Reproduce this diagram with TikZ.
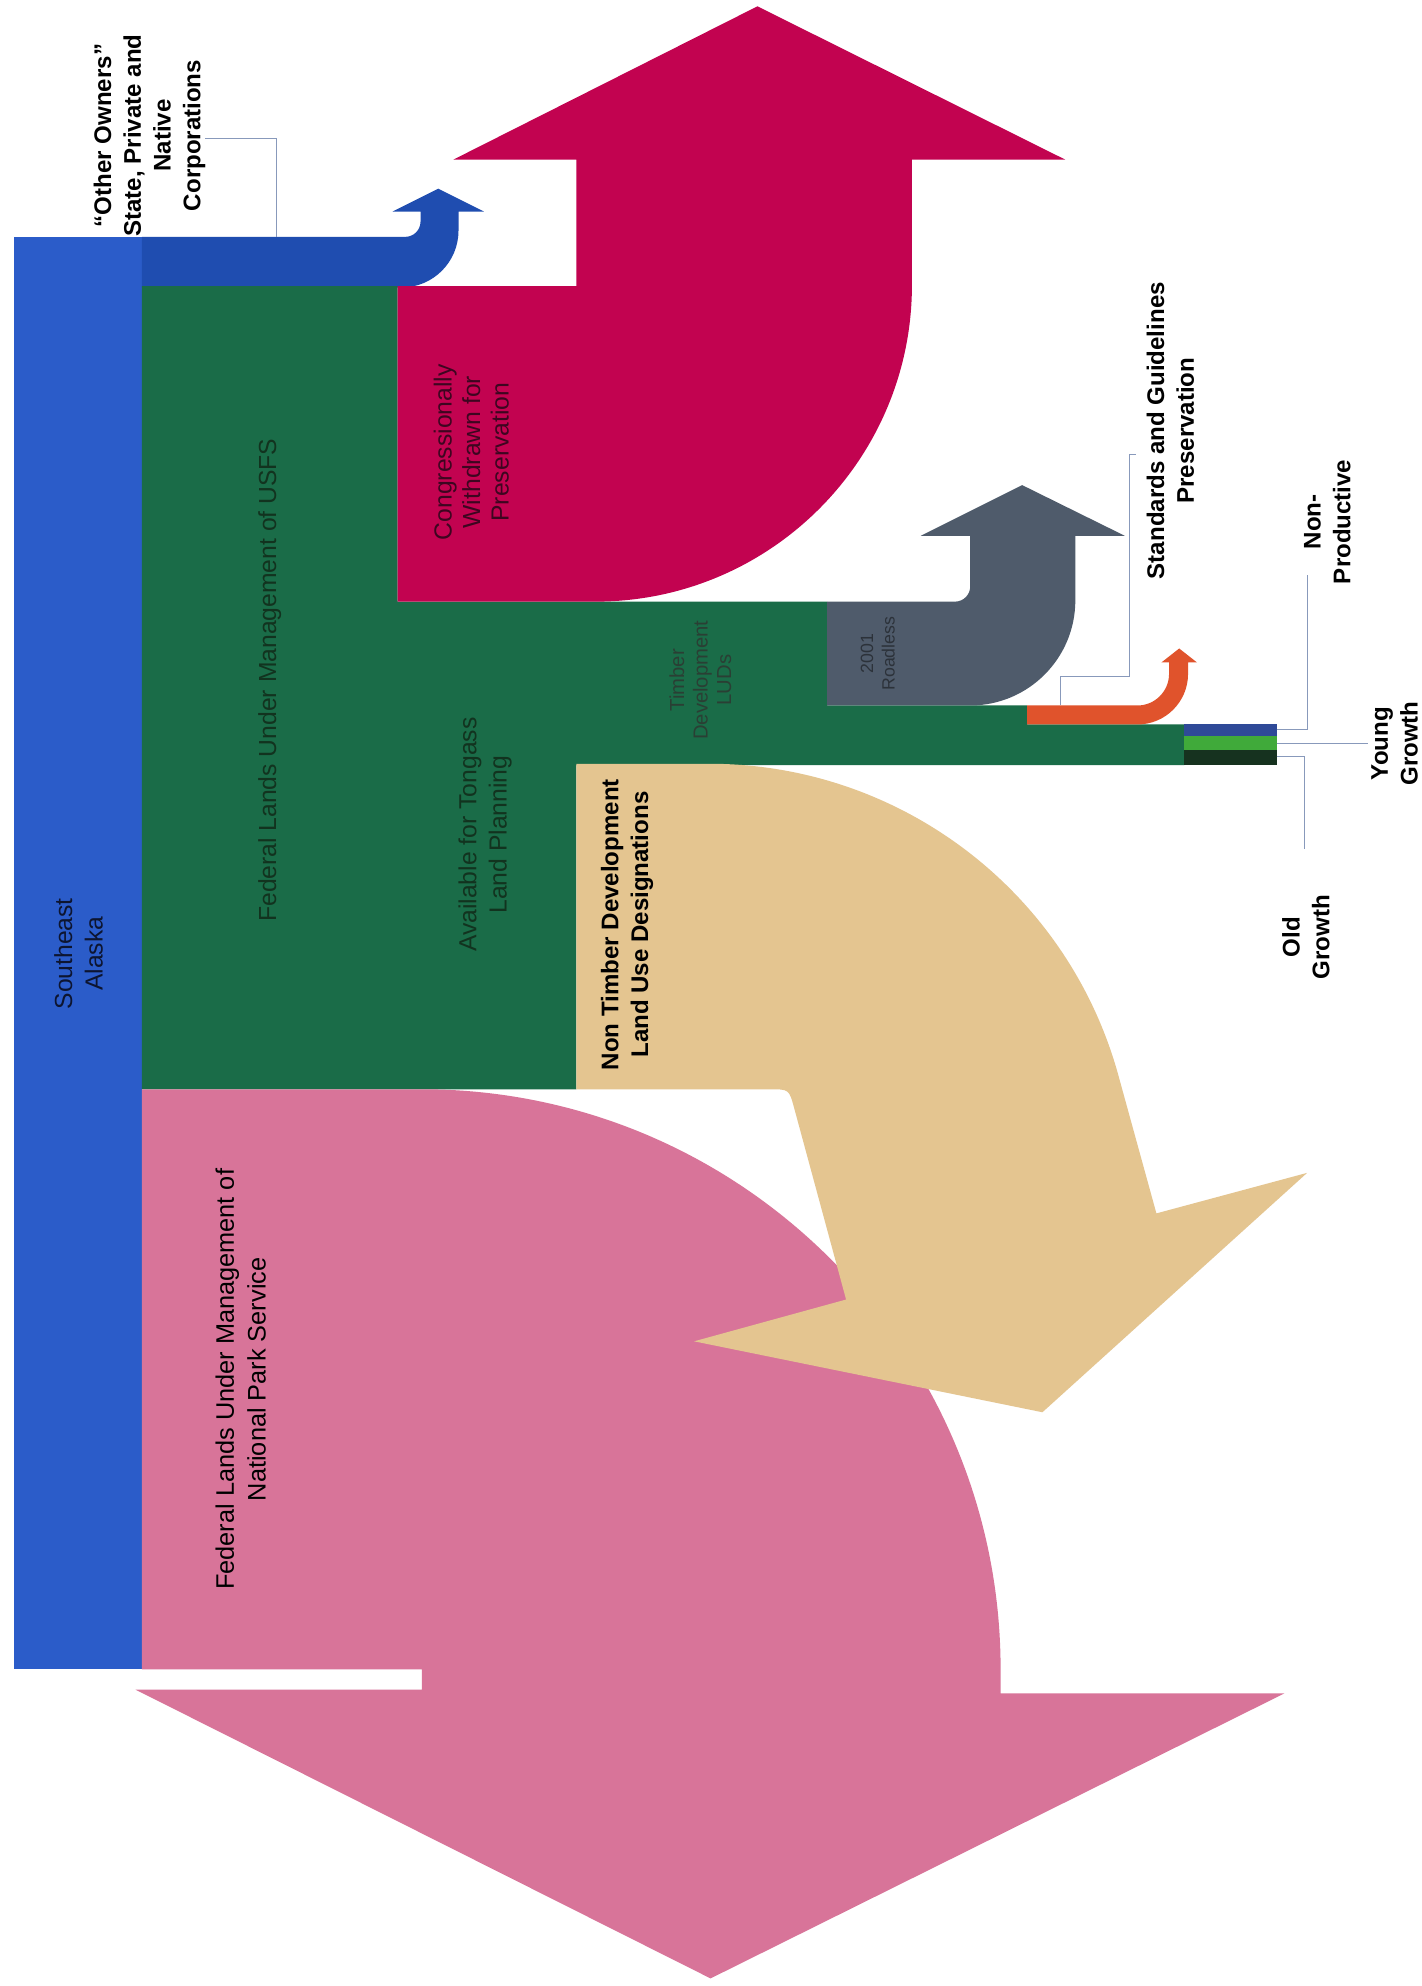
\documentclass[tikz,border=0pt]{standalone}
\usepackage{fontspec}
\setmainfont{Liberation Sans}
\definecolor{cblue}{HTML}{2B5CC9}
\definecolor{cdblue}{HTML}{1F4DB0}
\definecolor{cgreen}{HTML}{1A6C48}
\definecolor{cmag}{HTML}{C20350}
\definecolor{cgray}{HTML}{4F5B6B}
\definecolor{corange}{HTML}{E0532C}
\definecolor{ctan}{HTML}{E4C590}
\definecolor{cpink}{HTML}{D87499}
\definecolor{csblue}{HTML}{2F4A98}
\definecolor{cslgreen}{HTML}{40AA3A}
\definecolor{csdark}{HTML}{16321F}
\definecolor{tgreen}{HTML}{12331F}
\definecolor{tmag}{HTML}{3D0620}
\definecolor{ttimb}{HTML}{2A3F34}
\definecolor{troad}{HTML}{2C323A}
\definecolor{tblue}{HTML}{0D1530}
\definecolor{cline}{HTML}{8899BB}
\begin{document}
\begin{tikzpicture}[x=1pt,y=-1pt,
  lbl/.style={inner sep=0pt, align=center, rotate=90},
  bigtxt/.style={font=\fontsize{19.5}{24}\selectfont},
  boldtxt/.style={font=\bfseries\fontsize{19}{23.5}\selectfont},
  lead/.style={draw=cline, line width=0.8pt}]
\useasboundingbox (0,0) rectangle (1122,1568);
\fill[white] (0,0) rectangle (1122,1568);

% Southeast Alaska bar
\fill[cblue] (11,187) rectangle (112,1318);

% Other owners flow
\fill[cdblue] (112,187) -- (320,187) .. controls (326.6,187) and (332,181.6) .. (332,175)
  -- (332,167) -- (310,167) -- (346,149) -- (382,167) -- (362,167) -- (362,182)
  .. controls (362,206.9) and (341.9,227) .. (317,227) -- (112,227) -- cycle;

% USFS green
\fill[cgreen] (112,226) -- (314,226) -- (314,475) -- (653,475) -- (653,557) -- (811,557)
  -- (811,572) -- (935,572) -- (935,604) -- (455,604) -- (455,860) -- (112,860) -- cycle;

% Congressionally withdrawn
\fill[cmag] (314,226) -- (455,226) -- (455,126) -- (358,126) -- (598,5) -- (841,126)
  -- (720,126) -- (720,225) .. controls (720,363) and (608,475) .. (470,475) -- (314,475) -- cycle;

% 2001 Roadless
\fill[cgray] (653,475) -- (754,475) .. controls (760.6,475) and (766,469.6) .. (766,463)
  -- (766,423) -- (727,423) -- (807,383) -- (888,423) -- (849,423) -- (849,474)
  .. controls (849,519.8) and (811.8,557) .. (766,557) -- (653,557) -- cycle;

% Standards and guidelines
\fill[corange] (811,557) -- (898,557) .. controls (911.8,557) and (923,545.8) .. (923,532)
  -- (923,523) -- (917,523) -- (931,512) -- (945,523) -- (938,523) -- (938,532)
  .. controls (938,554.1) and (920.1,572) .. (898,572) -- (811,572) -- cycle;

% stripes
\fill[csblue] (935,572) rectangle (1008,581);
\fill[cslgreen] (935,581) rectangle (1008,592);
\fill[csdark] (935,592) rectangle (1008,604);

% National Park Service
\fill[cpink] (112,860) -- (333,860) .. controls (585.4,860) and (790,1065.6) .. (790,1318)
  -- (790,1337) -- (1014,1337) -- (561,1562) -- (107,1334) -- (333,1334) -- (333,1318)
  -- (112,1318) -- cycle;

% Non timber
\fill[ctan] (455,603) -- (560,603) .. controls (711.6,603) and (844.4,704.9) .. (883.6,851.3)
  -- (913,958) -- (1032,926) -- (823,1115) -- (548,1059) -- (668,1026) -- (627,874.8)
  .. controls (623,860) .. (607.7,860) -- (455,860) -- cycle;

% labels inside
\node[lbl,bigtxt,text=tblue] (se) at (62,753) {Southeast\\Alaska};
\node[lbl,bigtxt,text=tgreen] (usfs) at (213,537) {Federal Lands Under Management of USFS};
\node[lbl,font=\fontsize{19.5}{22.5}\selectfont,text=tmag] (cong) at (372,357) {Congressionally\\Withdrawn for\\Preservation};
\node[lbl,bigtxt,text=tgreen] (avail) at (383,659) {Available for Tongass\\Land Planning};
\node[lbl,font=\fontsize{16}{18.5}\selectfont,text=ttimb] (timb) at (553,537) {Timber\\Development\\LUDs};
\node[lbl,font=\fontsize{14}{17}\selectfont,text=troad] (road) at (693,516) {2001\\Roadless};
\node[lbl,boldtxt,text=black] (nont) at (495,730) {Non Timber Development\\Land Use Designations};
\node[lbl,font=\fontsize{20}{25}\selectfont,text=black] (nps) at (190,1089) {Federal Lands Under Management of\\National Park Service};

% outside labels
\node[lbl,boldtxt] (own) at (118,107) {“Other Owners”\\State, Private and\\Native\\Corporations};
\node[lbl,boldtxt] (std) at (924,340) {Standards and Guidelines\\Preservation};
\node[lbl,boldtxt] (nonp) at (1048,412) {Non-\\Productive};
\node[lbl,boldtxt] (young) at (1101,587) {Young\\Growth};
\node[lbl,boldtxt] (old) at (1031,740) {Old\\Growth};

% leader coordinates
\coordinate (ownA) at (218,187);
\coordinate (ownB) at (162,109);
\coordinate (stdA) at (837,557);
\coordinate (stdB) at (897,359);
\coordinate (npA) at (1008,576);
\coordinate (npB) at (1032,454);
\coordinate (ygA) at (1008,587);
\coordinate (ygB) at (1080,587);
\coordinate (ogA) at (1008,597);
\coordinate (ogB) at (1030,670);

\draw[lead] (ownA) -- (218,109) -- (ownB);
\draw[lead] (stdA) -- (837,534) -- (892,534) -- (892,359) -- (stdB);
\draw[lead] (npA) -| (npB);
\draw[lead] (ygA) -- (ygB);
\draw[lead] (ogA) -| (ogB);
\end{tikzpicture}
\end{document}
